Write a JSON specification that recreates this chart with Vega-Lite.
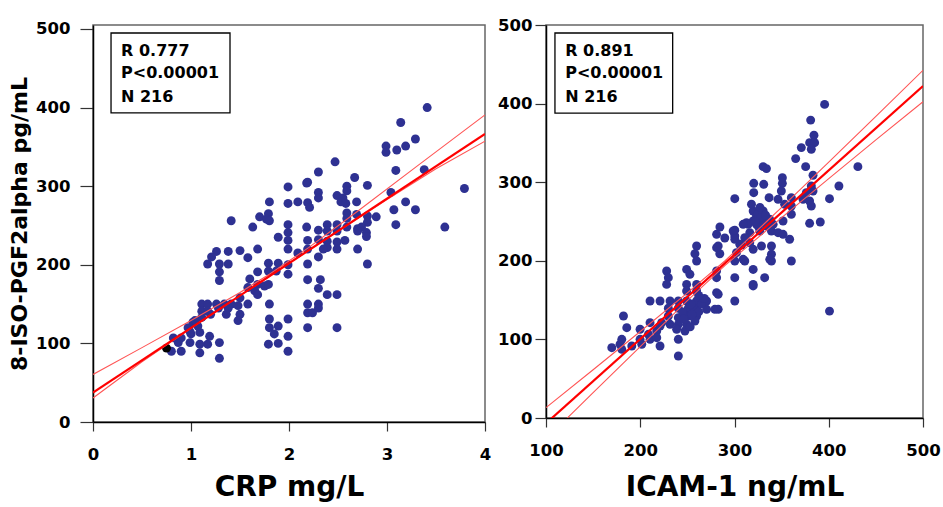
{
  "$schema": "https://vega.github.io/schema/vega-lite/v6.json",
  "background": "white",
  "padding": {"left": 7, "top": 16, "right": 0, "bottom": 5},
  "bounds": "flush",
  "spacing": 61,
  "config": {
    "view": {"stroke": "#666666", "strokeWidth": 1.5},
    "font": "DejaVu Sans",
    "axis": {
      "grid": false,
      "labelFlush": false,
      "labelOverlap": false,
      "labelFont": "DejaVu Sans",
      "labelFontWeight": "bold",
      "labelFontSize": 16.5,
      "labelColor": "black",
      "titleFont": "DejaVu Sans",
      "titleFontWeight": "bold",
      "titleColor": "black",
      "domainColor": "black",
      "domainWidth": 1.5,
      "tickColor": "#333333",
      "tickWidth": 1.2
    }
  },
  "datasets": {
    "crp": [
      {"x":1.99,"y":299},{"x":2.18,"y":304},{"x":1.80,"y":280},{"x":1.99,"y":278},{"x":1.79,"y":265},{"x":1.70,"y":261},{"x":1.77,"y":258},{"x":1.80,"y":256},
      {"x":1.41,"y":256},{"x":1.63,"y":248},{"x":1.99,"y":251},{"x":1.99,"y":241},{"x":1.99,"y":231},{"x":1.99,"y":220},{"x":1.89,"y":235},
      {"x":1.26,"y":217},{"x":1.21,"y":210},{"x":1.17,"y":201},{"x":1.29,"y":201},{"x":1.38,"y":217},{"x":1.50,"y":218},{"x":1.68,"y":220},
      {"x":1.58,"y":209},{"x":1.38,"y":201},{"x":1.29,"y":191},{"x":1.29,"y":180},{"x":1.79,"y":202},{"x":1.89,"y":202},{"x":1.87,"y":192},
      {"x":1.79,"y":192},{"x":1.68,"y":191},{"x":1.60,"y":182},{"x":1.99,"y":200},{"x":1.99,"y":188},{"x":1.68,"y":175},{"x":1.75,"y":173},
      {"x":1.58,"y":171},{"x":1.65,"y":167},{"x":1.11,"y":150},{"x":1.17,"y":150},{"x":1.26,"y":150},{"x":1.34,"y":150},{"x":1.41,"y":150},
      {"x":1.50,"y":158},{"x":1.11,"y":141},{"x":1.17,"y":141},{"x":1.11,"y":133},{"x":1.20,"y":137},{"x":1.28,"y":145},{"x":1.38,"y":145},
      {"x":1.36,"y":137},{"x":1.48,"y":148},{"x":1.50,"y":137},{"x":1.48,"y":129},{"x":1.58,"y":150},{"x":1.68,"y":162},{"x":1.79,"y":175},
      {"x":1.80,"y":150},{"x":1.80,"y":131},{"x":1.80,"y":120},{"x":1.89,"y":122},{"x":1.85,"y":112},{"x":1.99,"y":131},{"x":1.99,"y":109},
      {"x":1.79,"y":99},{"x":1.89,"y":100},{"x":1.99,"y":90},{"x":1.29,"y":81},{"x":1.09,"y":88},{"x":1.17,"y":99},{"x":1.29,"y":101},
      {"x":1.19,"y":109},{"x":1.09,"y":114},{"x":1.00,"y":112},{"x":0.97,"y":120},{"x":1.07,"y":122},{"x":0.80,"y":90},{"x":0.90,"y":90},
      {"x":0.87,"y":101},{"x":0.99,"y":101},{"x":0.82,"y":107},{"x":0.90,"y":107},{"x":1.09,"y":99},{"x":1.02,"y":127},{"x":1.04,"y":129},{"x":0.99,"y":115},
      {"x":3.41,"y":400},{"x":3.14,"y":381},{"x":3.29,"y":360},{"x":2.99,"y":351},{"x":2.99,"y":343},{"x":3.10,"y":346},{"x":3.19,"y":351},
      {"x":2.47,"y":331},{"x":2.30,"y":318},{"x":3.09,"y":320},{"x":3.38,"y":321},{"x":2.67,"y":311},{"x":2.80,"y":301},{"x":2.59,"y":300},
      {"x":2.59,"y":294},{"x":3.04,"y":292},{"x":3.79,"y":297},{"x":2.30,"y":292},{"x":2.30,"y":285},{"x":2.19,"y":279},{"x":2.21,"y":273},
      {"x":2.09,"y":280},{"x":2.49,"y":288},{"x":2.55,"y":285},{"x":2.53,"y":280},{"x":2.58,"y":278},{"x":2.69,"y":280},{"x":3.19,"y":280},
      {"x":3.07,"y":270},{"x":3.29,"y":270},{"x":3.09,"y":251},{"x":3.59,"y":248},{"x":2.59,"y":266},{"x":2.59,"y":259},{"x":2.80,"y":262},
      {"x":2.89,"y":261},{"x":2.80,"y":254},{"x":2.18,"y":248},{"x":2.30,"y":244},{"x":2.39,"y":251},{"x":2.39,"y":243},{"x":2.49,"y":251},
      {"x":2.49,"y":243},{"x":2.59,"y":248},{"x":2.70,"y":246},{"x":2.74,"y":248},{"x":2.79,"y":241},{"x":2.79,"y":236},{"x":2.19,"y":231},
      {"x":2.30,"y":232},{"x":2.39,"y":230},{"x":2.39,"y":222},{"x":2.49,"y":229},{"x":2.57,"y":231},{"x":2.49,"y":220},{"x":2.35,"y":220},
      {"x":2.19,"y":220},{"x":2.09,"y":215},{"x":2.70,"y":220},{"x":2.30,"y":210},{"x":2.19,"y":201},{"x":2.80,"y":201},{"x":2.19,"y":181},
      {"x":2.32,"y":181},{"x":2.30,"y":170},{"x":2.39,"y":162},{"x":2.49,"y":162},{"x":2.19,"y":150},{"x":2.30,"y":150},{"x":2.19,"y":139},
      {"x":2.24,"y":139},{"x":2.30,"y":145},{"x":2.19,"y":120},{"x":2.49,"y":120},{"x":2.69,"y":264},{"x":2.70,"y":243},{"x":2.19,"y":305}
    ],
    "crpBlack": [{"x":0.75,"y":94}],
    "crpLines": [
      {"x":0,"y":37.5,"line":"fit"},{"x":4,"y":366.3,"line":"fit"},
      {"x":0,"y":60.5,"line":"upper"},{"x":0.5,"y":94.6,"line":"upper"},{"x":1.0,"y":129.2,"line":"upper"},{"x":1.5,"y":164.8,"line":"upper"},{"x":1.8,"y":188,"line":"upper"},{"x":2.2,"y":221.8,"line":"upper"},{"x":2.7,"y":268.1,"line":"upper"},{"x":3.3,"y":324.8,"line":"upper"},{"x":4,"y":390.6,"line":"upper"},
      {"x":0,"y":30.5,"line":"lower"},{"x":0.5,"y":76.6,"line":"lower"},{"x":1.0,"y":119.2,"line":"lower"},{"x":2.0,"y":201.9,"line":"lower"},{"x":3.0,"y":283.1,"line":"lower"},{"x":3.5,"y":322.2,"line":"lower"},{"x":4,"y":357.3,"line":"lower"}
    ],
    "crpBox": [{"x1":0.184,"x2":1.398,"y1":393.1,"y2":494.8}],
    "crpText": [
      {"x":0.286,"y":465.5,"t":"R 0.777"},
      {"x":0.286,"y":437.2,"t":"P<0.00001"},
      {"x":0.286,"y":407.4,"t":"N 216"}
    ],
    "icam": [
      {"x":284.5,"y":243},{"x":300.3,"y":239},{"x":300.3,"y":231.6},{"x":289.7,"y":229},{"x":312.7,"y":248.5},{"x":323.3,"y":246.4},
      {"x":259.8,"y":218.8},{"x":258,"y":209},{"x":259.8,"y":199.7},{"x":282.7,"y":218.8},{"x":284.4,"y":209},{"x":307.4,"y":220},
      {"x":319.8,"y":214.6},{"x":328.6,"y":218.8},{"x":300.3,"y":199.7},{"x":310.9,"y":199.7},{"x":319.8,"y":189},{"x":300.3,"y":178.5},
      {"x":319.8,"y":170},{"x":332,"y":178.5},{"x":228,"y":187},{"x":229.8,"y":178.5},{"x":228,"y":170},{"x":249.2,"y":189},
      {"x":252.7,"y":182.8},{"x":249.2,"y":170},{"x":259.8,"y":170},{"x":249.2,"y":161.6},{"x":259.8,"y":161.6},{"x":281,"y":178.5},
      {"x":281,"y":159.4},{"x":300.3,"y":148.9},{"x":210.4,"y":148.9},{"x":221,"y":148.9},{"x":231.6,"y":148.9},{"x":240.4,"y":148.9},
      {"x":249.2,"y":148.9},{"x":259.8,"y":148.9},{"x":270.4,"y":148.9},{"x":270.4,"y":138.3},{"x":279.2,"y":138.3},{"x":259.8,"y":138.3},
      {"x":229.8,"y":139.6},{"x":240.4,"y":139.6},{"x":251,"y":139.6},{"x":256.3,"y":139.6},{"x":229.8,"y":129.8},{"x":240.4,"y":127.6},
      {"x":251,"y":129.8},{"x":259.8,"y":129.8},{"x":231.6,"y":119.2},{"x":240.4,"y":119.2},{"x":249.2,"y":119.2},{"x":258,"y":123.4},
      {"x":182.2,"y":129.8},{"x":185.7,"y":114.9},{"x":199.8,"y":112.9},{"x":210.4,"y":121.3},{"x":217.5,"y":110.7},{"x":222.7,"y":121.3},
      {"x":210.4,"y":100.1},{"x":221,"y":91.6},{"x":217.5,"y":102.2},{"x":180.4,"y":100.1},{"x":178.6,"y":93.8},{"x":169.8,"y":89.5},
      {"x":191,"y":91.6},{"x":199.8,"y":100.1},{"x":208.7,"y":106.5},{"x":240.4,"y":100.1},{"x":240.4,"y":78.9},{"x":238.6,"y":112.9},
      {"x":247.4,"y":110.7},{"x":180.4,"y":87.4},{"x":201.6,"y":93.8},{"x":221,"y":117},{"x":339.2,"y":199.7},{"x":339.2,"y":208.3},
      {"x":360.3,"y":199.7},{"x":400.8,"y":136},{"x":254,"y":145},{"x":262,"y":135},{"x":255,"y":132},{"x":245,"y":135},{"x":265,"y":145},
      {"x":268,"y":152},{"x":262,"y":156},{"x":246,"y":126},{"x":253,"y":116},
      {"x":395.6,"y":399},{"x":380.8,"y":379},{"x":384.3,"y":359.7},{"x":379.7,"y":350.3},{"x":385,"y":350.3},{"x":370.9,"y":344},
      {"x":381.5,"y":341.9},{"x":364.9,"y":330},{"x":375.5,"y":319.8},{"x":330.4,"y":319.8},{"x":333.9,"y":317.3},{"x":430.9,"y":319.8},
      {"x":350.8,"y":305.7},{"x":350.8,"y":298.6},{"x":383.3,"y":308.8},{"x":381.5,"y":295.2},{"x":383.3,"y":288.8},{"x":376.2,"y":286.7},
      {"x":372.7,"y":278.2},{"x":379.7,"y":276.1},{"x":381.5,"y":269.7},{"x":400.8,"y":279},{"x":410.8,"y":295.2},{"x":320.4,"y":298.6},
      {"x":331,"y":297.3},{"x":320.4,"y":286.7},{"x":336.7,"y":280.3},{"x":300.3,"y":279},{"x":346.2,"y":278.2},{"x":349.7,"y":288.8},
      {"x":360.3,"y":280.3},{"x":360.3,"y":269.7},{"x":353.2,"y":271.9},{"x":360.3,"y":259.2},{"x":351.5,"y":250.6},{"x":379.7,"y":247.7},
      {"x":391,"y":249.4},{"x":319.8,"y":263.4},{"x":330.4,"y":263.4},{"x":323.3,"y":257},{"x":319.8,"y":250.6},{"x":330.4,"y":250.6},
      {"x":337.4,"y":252.8},{"x":314.5,"y":246.4},{"x":325.1,"y":244.3},{"x":333.9,"y":244.3},{"x":341,"y":246.4},{"x":316.2,"y":235.8},
      {"x":326.8,"y":237.9},{"x":339.2,"y":237.9},{"x":346.2,"y":235.8},{"x":351.5,"y":233.7},{"x":358.5,"y":227.4},{"x":316.2,"y":223},
      {"x":305.6,"y":221},{"x":310.9,"y":229.4},{"x":339.2,"y":218.8},{"x":337.4,"y":201.9},{"x":302.1,"y":210.3},{"x":309.2,"y":201.9},
      {"x":319.8,"y":168},{"x":281,"y":216.7},{"x":281,"y":187},{"x":282.7,"y":157.4},{"x":282.7,"y":138.3},{"x":309.2,"y":246.4},
      {"x":298.6,"y":237.9},{"x":300.3,"y":227.4},{"x":281,"y":233.7},{"x":325,"y":260},{"x":328,"y":255},{"x":322,"y":250},
      {"x":333,"y":258},{"x":327,"y":268},{"x":318,"y":272}
    ],
    "icamLines": [
      {"x":100,"y":-6.8,"line":"fit"},{"x":500,"y":422.4,"line":"fit"},
      {"x":100,"y":13.2,"line":"upper"},{"x":150,"y":61.4,"line":"upper"},{"x":200,"y":110.1,"line":"upper"},{"x":250,"y":159.2,"line":"upper"},{"x":290,"y":200.1,"line":"upper"},{"x":350,"y":268,"line":"upper"},{"x":400,"y":325.6,"line":"upper"},{"x":450,"y":383.8,"line":"upper"},{"x":500,"y":442.4,"line":"upper"},
      {"x":100,"y":-26.8,"line":"lower"},{"x":150,"y":32.4,"line":"lower"},{"x":200,"y":90.9,"line":"lower"},{"x":250,"y":149.2,"line":"lower"},{"x":290,"y":194.1,"line":"lower"},{"x":350,"y":255,"line":"lower"},{"x":400,"y":304.6,"line":"lower"},{"x":450,"y":353.8,"line":"lower"},{"x":500,"y":402.4,"line":"lower"}
    ],
    "icamBox": [{"x1":109.5,"x2":234.4,"y1":388,"y2":489.8}],
    "icamText": [
      {"x":120.4,"y":460.6,"t":"R 0.891"},
      {"x":120.4,"y":432.2,"t":"P<0.00001"},
      {"x":120.4,"y":402.4,"t":"N 216"}
    ]
  },
  "hconcat": [
    {
      "width": 392,
      "height": 397,
      "encoding": {
        "x": {"field": "x", "type": "quantitative", "scale": {"domain": [0, 4], "nice": false},
              "axis": {"title": "CRP mg/L", "titleFontSize": 28, "titlePadding": 11, "values": [0,1,2,3,4], "format": "d", "tickSize": 9, "labelPadding": 15}},
        "y": {"field": "y", "type": "quantitative", "scale": {"domain": [0, 505], "nice": false},
              "axis": {"title": "8-ISO-PGF2alpha pg/mL", "titleFontSize": 22, "titlePadding": 4, "values": [0,100,200,300,400,500], "tickSize": 13, "labelPadding": 10}}
      },
      "layer": [
        {"data": {"name": "crp"}, "mark": {"type": "circle", "size": 80, "opacity": 1, "color": "#2E3192"}},
        {"data": {"name": "crpBlack"}, "mark": {"type": "circle", "size": 80, "opacity": 1, "color": "#000000"}},
        {"data": {"name": "crpLines"}, "transform": [{"filter": "datum.line !== 'fit'"}],
         "mark": {"type": "line", "color": "#FF5555", "strokeWidth": 1.1, "clip": true},
         "encoding": {"detail": {"field": "line"}}},
        {"data": {"name": "crpLines"}, "transform": [{"filter": "datum.line === 'fit'"}],
         "mark": {"type": "line", "color": "#FF0000", "strokeWidth": 2.2, "clip": true}},
        {"data": {"name": "crpBox"}, "mark": {"type": "rect", "fill": "white", "stroke": "black", "strokeWidth": 1.3},
         "encoding": {"x": {"field": "x1", "type": "quantitative"}, "x2": {"field": "x2"}, "y": {"field": "y1", "type": "quantitative"}, "y2": {"field": "y2"}}},
        {"data": {"name": "crpText"}, "mark": {"type": "text", "align": "left", "baseline": "alphabetic", "font": "DejaVu Sans", "fontWeight": "bold", "fontSize": 16, "color": "black"},
         "encoding": {"text": {"field": "t"}}}
      ]
    },
    {
      "width": 377,
      "height": 393,
      "encoding": {
        "x": {"field": "x", "type": "quantitative", "scale": {"domain": [100, 500], "nice": false},
              "axis": {"title": "ICAM-1 ng/mL", "titleFontSize": 28, "titlePadding": 15, "values": [100,200,300,400,500], "tickSize": 9, "labelPadding": 15}},
        "y": {"field": "y", "type": "quantitative", "scale": {"domain": [0, 500], "nice": false},
              "axis": {"title": null, "values": [0,100,200,300,400,500], "tickSize": 11, "labelPadding": 3}}
      },
      "layer": [
        {"data": {"name": "icam"}, "mark": {"type": "circle", "size": 80, "opacity": 1, "color": "#2E3192"}},
        {"data": {"name": "icamLines"}, "transform": [{"filter": "datum.line !== 'fit'"}],
         "mark": {"type": "line", "color": "#FF5555", "strokeWidth": 1.1, "clip": true},
         "encoding": {"detail": {"field": "line"}}},
        {"data": {"name": "icamLines"}, "transform": [{"filter": "datum.line === 'fit'"}],
         "mark": {"type": "line", "color": "#FF0000", "strokeWidth": 2.2, "clip": true}},
        {"data": {"name": "icamBox"}, "mark": {"type": "rect", "fill": "white", "stroke": "black", "strokeWidth": 1.3},
         "encoding": {"x": {"field": "x1", "type": "quantitative"}, "x2": {"field": "x2"}, "y": {"field": "y1", "type": "quantitative"}, "y2": {"field": "y2"}}},
        {"data": {"name": "icamText"}, "mark": {"type": "text", "align": "left", "baseline": "alphabetic", "font": "DejaVu Sans", "fontWeight": "bold", "fontSize": 16, "color": "black"},
         "encoding": {"text": {"field": "t"}}}
      ]
    }
  ]
}
